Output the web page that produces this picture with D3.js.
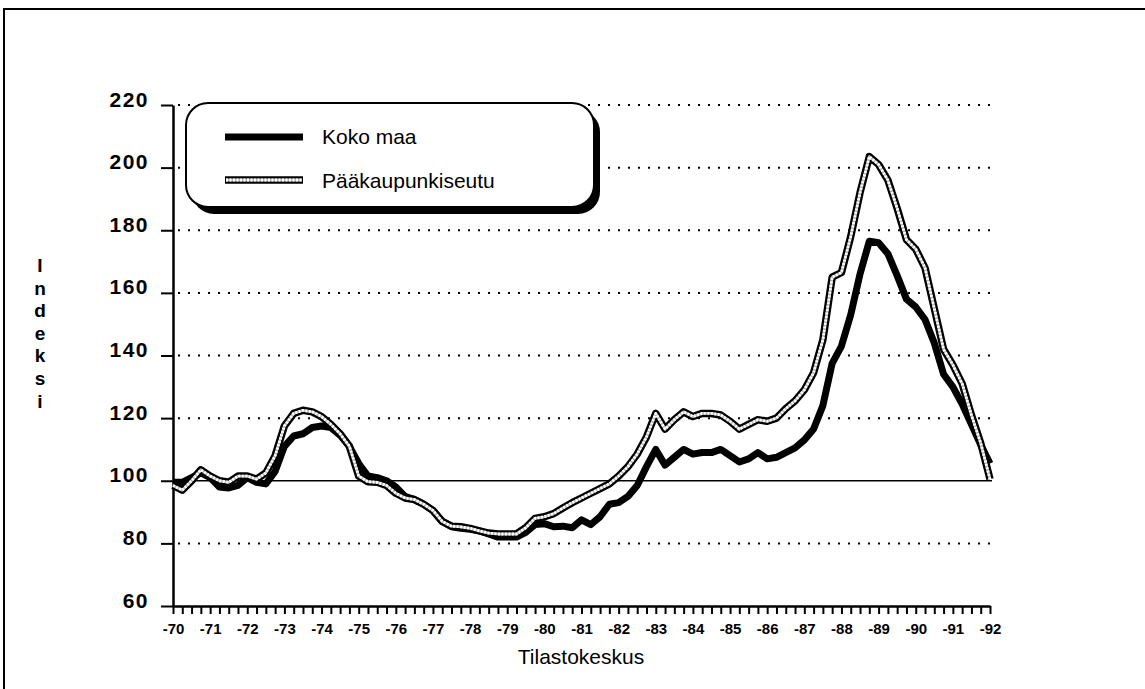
<!DOCTYPE html>
<html>
<head>
<meta charset="utf-8">
<script src="https://cdn.jsdelivr.net/npm/d3@7"></script>
<style>
  body { margin: 0; background: #fff; }
  svg { font-family: "Liberation Sans", Arial, sans-serif; }
</style>
</head>
<body>
<svg id="chart" width="1145" height="689"></svg>
<script>
// quarterly index values, 1970 Q1 .. 1992 Q1
const kokoMaa = [99.5, 99.5, 101, 102.5, 101, 98, 97.7, 98.5, 101, 99.5, 99, 103,
  111, 114.3, 115, 117, 117.5, 117, 114.5, 111, 105.5, 101.5, 101, 100,
  98, 95, 94, 92.5, 90.5, 87, 85.3, 84.8, 84.5, 84, 83, 82,
  82, 82, 83.5, 86, 86.3, 85.3, 85.5, 85, 87.5, 86, 88.5, 92.5,
  93, 95, 98.5, 104.5, 110, 105, 107.5, 110, 108.5, 109, 109, 110,
  108, 106, 107, 109, 107, 107.5, 109, 110.5, 113, 116.5, 124, 137.5,
  143, 153, 166, 176.5, 176, 172.5, 165.5, 158, 155.5, 151.5, 144, 134,
  130, 124.5, 118, 111.5, 105.5];
const paakaupunkiseutu = [98.5, 97, 100, 103.5, 101.5, 100, 99.5, 101.5, 101.5, 100.5, 102.5, 108,
  117.5, 121.5, 122.5, 122, 120.5, 118, 115, 111, 101.5, 99.7, 99.5, 98.5,
  96, 94.5, 94, 92.5, 90.5, 87, 85.5, 85.3, 84.8, 84, 83.3, 83,
  83, 83, 85, 88, 88.5, 89.5, 91.3, 93, 94.5, 96, 97.5, 99,
  101.5, 104.5, 108.5, 114, 121.5, 116.5, 119.5, 122, 120.5, 121.5, 121.5, 121,
  119, 116.5, 118, 119.5, 119, 120, 123, 125.5, 129, 134.5, 145, 165,
  166.5, 178, 192, 203.5, 201, 196, 187, 177, 174, 168, 155, 142,
  137, 131, 121, 112, 100.5];
const years = d3.range(1970, 1993);
const yearLabels = years.map(y => "-" + String(y).slice(2));
const yTicks = [60, 80, 100, 120, 140, 160, 180, 200, 220];
const yTitle = ["I", "n", "d", "e", "k", "s", "i"];

const svg = d3.select("#chart");

const x = d3.scaleLinear().domain([1970, 1992]).range([173, 990]);
const y = d3.scaleLinear().domain([60, 220]).range([606, 105]);
const quarter = i => 1970 + i / 4;

// outer frame (top and left only)
svg.append("path")
  .attr("d", "M4,689 V9 H1145")
  .attr("fill", "none").attr("stroke", "#000").attr("stroke-width", 2);

// grid
svg.append("g").selectAll("line")
  .data(yTicks.filter(d => d !== 60 && d !== 100))
  .join("line")
  .attr("x1", 178).attr("x2", 990)
  .attr("y1", d => y(d)).attr("y2", d => y(d))
  .attr("stroke", "#000").attr("stroke-width", 2)
  .attr("stroke-dasharray", "2,8");

svg.append("line")
  .attr("x1", x(1970)).attr("x2", 992)
  .attr("y1", y(100)).attr("y2", y(100))
  .attr("stroke", "#000").attr("stroke-width", 1.5);

// axes
const yAxis = svg.append("g")
  .attr("transform", `translate(${x(1970)},0)`)
  .call(d3.axisLeft(y).tickValues(yTicks).tickSize(12).tickPadding(12).tickSizeOuter(0));
yAxis.select(".domain").attr("stroke-width", 2.5);
yAxis.selectAll(".tick line").attr("stroke-width", 2);
yAxis.selectAll("text")
  .attr("font-size", 21).attr("font-weight", "bold").attr("fill", "#000")
  .attr("letter-spacing", 1.5).attr("dy", "0.05em");

const quarters = d3.range(kokoMaa.length).map(quarter);
const xTicks = svg.append("g")
  .attr("transform", `translate(0,${y(60)})`)
  .call(d3.axisBottom(x).tickValues(quarters).tickSize(8).tickFormat("").tickSizeOuter(0));
xTicks.select(".domain").attr("stroke-width", 2.5);
xTicks.selectAll(".tick line").attr("stroke-width", 2);

const xLabels = svg.append("g")
  .attr("transform", `translate(0,${y(60)})`)
  .call(d3.axisBottom(x).tickValues(years).tickSize(0).tickPadding(17)
    .tickFormat((d, i) => yearLabels[i]));
xLabels.select(".domain").remove();
xLabels.selectAll("text")
  .attr("font-size", 15).attr("font-weight", "bold").attr("fill", "#000");

svg.append("text")
  .attr("x", 581).attr("y", 664)
  .attr("text-anchor", "middle").attr("font-size", 21)
  .text("Tilastokeskus");

svg.append("g").selectAll("text")
  .data(yTitle)
  .join("text")
  .attr("x", 40).attr("y", (d, i) => 272 + i * 22.6)
  .attr("text-anchor", "middle").attr("font-size", 19).attr("font-weight", "bold")
  .text(d => d);

// lines
const line = d3.line()
  .x((d, i) => x(quarter(i)))
  .y(d => y(d))
  .curve(d3.curveLinear);

svg.append("path").datum(kokoMaa)
  .attr("d", line).attr("fill", "none")
  .attr("stroke", "#000").attr("stroke-width", 7).attr("stroke-linejoin", "round");

const pk = svg.append("g");
pk.append("path").datum(paakaupunkiseutu)
  .attr("d", line).attr("fill", "none")
  .attr("stroke", "#000").attr("stroke-width", 7.5).attr("stroke-linejoin", "round");
pk.append("path").datum(paakaupunkiseutu)
  .attr("d", line).attr("fill", "none")
  .attr("stroke", "#bbb").attr("stroke-width", 2.8).attr("stroke-linejoin", "round");
pk.append("path").datum(paakaupunkiseutu)
  .attr("d", line).attr("fill", "none")
  .attr("stroke", "#fff").attr("stroke-width", 2.8).attr("stroke-dasharray", "2,1.5")
  .attr("stroke-linejoin", "round");

// legend
const legend = svg.append("g");
legend.append("rect")
  .attr("x", 192).attr("y", 110).attr("width", 408).attr("height", 104)
  .attr("rx", 22).attr("fill", "#000");
legend.append("rect")
  .attr("x", 186).attr("y", 103).attr("width", 408).attr("height", 104)
  .attr("rx", 22).attr("fill", "#fff").attr("stroke", "#000").attr("stroke-width", 2);

legend.append("line")
  .attr("x1", 225).attr("x2", 303).attr("y1", 137).attr("y2", 137)
  .attr("stroke", "#000").attr("stroke-width", 7);
legend.append("line")
  .attr("x1", 225).attr("x2", 303).attr("y1", 180).attr("y2", 180)
  .attr("stroke", "#000").attr("stroke-width", 7.5);
legend.append("line")
  .attr("x1", 226).attr("x2", 302).attr("y1", 180).attr("y2", 180)
  .attr("stroke", "#bbb").attr("stroke-width", 2.8);
legend.append("line")
  .attr("x1", 226).attr("x2", 302).attr("y1", 180).attr("y2", 180)
  .attr("stroke", "#fff").attr("stroke-width", 2.8).attr("stroke-dasharray", "2,1.5");

legend.append("text").attr("x", 322).attr("y", 144).attr("font-size", 21).text("Koko maa");
legend.append("text").attr("x", 322).attr("y", 188).attr("font-size", 21).text("Pääkaupunkiseutu");
</script>
</body>
</html>
